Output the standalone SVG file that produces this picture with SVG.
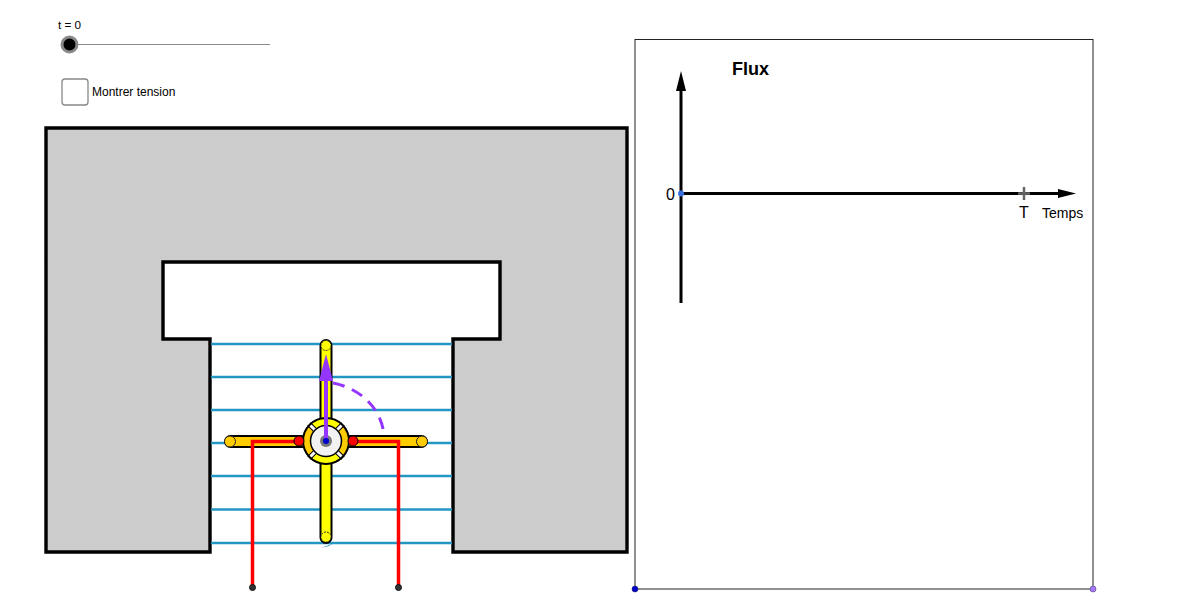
<svg xmlns="http://www.w3.org/2000/svg" width="1200" height="601" viewBox="0 0 1200 601">
<style>
text{font-family:"Liberation Sans",Arial,sans-serif;fill:#000}
.field{stroke:#2496c4;stroke-width:2.400;fill:none}
.ax{stroke:#000;stroke-width:3;fill:none}
.red{stroke:#f00;stroke-width:3.500;fill:none}
.wall{fill:#ccc;stroke:#000;stroke-width:3.400;stroke-linejoin:miter}
.pin{fill:#333;stroke:#111;stroke-width:1}
.slit{stroke:#000;stroke-width:5;fill:none}
.vis{stroke:#fff;stroke-width:3;fill:none}
</style>
<rect width="1200" height="601" fill="#fff"/>
<g id="slider">
<line x1="69" y1="44.500" x2="270" y2="44.500" stroke="#8a8a8a" stroke-width="1"/>
<circle cx="69.500" cy="44.500" r="7.500" fill="#000" stroke="#888" stroke-width="3"/>
<text x="58" y="29" font-size="11.700">t = 0</text>
</g>
<g id="checkbox">
<rect x="62" y="79" width="26" height="26" rx="3" fill="#fff" stroke="#888" stroke-width="1.300"/>
<text x="92" y="96" font-size="12">Montrer tension</text>
</g>
<g id="magnet">
<path class="wall" d="M46 128H627V552H453V339H500V262H163V339H210V552H46Z"/>
</g>
<g id="connectors">
<path class="field" d="M211 344H452M211 377H452M211 410H452M211 443H452M211 476H452M211 509.500H452M211 543H452"/>
<path d="M321 548L333 543.500L329 546Z" fill="#2496c4"/>
<path d="M333 383C360 388 385 410 384 441" fill="none" stroke="#9436ff" stroke-width="3" stroke-dasharray="12 8"/>
</g>
<g id="rotor">
<rect x="320.500" y="340" width="11" height="203" rx="5.500" fill="#ff0" stroke="#000" stroke-width="2"/>
<rect x="225" y="436" width="202" height="11" rx="5.500" fill="#fc0" stroke="#000" stroke-width="2"/>
<circle cx="326" cy="345.500" r="5" fill="#ff0" stroke="#333" stroke-width="1" stroke-dasharray="2 1"/>
<circle cx="326" cy="537" r="5" fill="#ff0" stroke="#333" stroke-width="1" stroke-dasharray="2 1"/>
<circle cx="230" cy="441.500" r="5.500" fill="#fc0" stroke="#222" stroke-width="1"/>
<circle cx="422" cy="441.500" r="5.500" fill="#fc0" stroke="#222" stroke-width="1"/>
</g>
<g id="hub">
<circle cx="326" cy="441" r="23" fill="#fc0"/>
<path d="M310 425A22.600 22.600 0 0 1 342 425L326 441ZM310 457A22.600 22.600 0 0 0 342 457L326 441Z" fill="#ff0"/>
<path class="slit" d="M309 424L319 434M343 424L333 434M309 458L319 448M343 458L333 448"/>
<path class="vis" d="M309 424L319 434M343 424L333 434M309 458L319 448M343 458L333 448"/>
<circle cx="326" cy="441" r="15.500" fill="#f2f2f2" stroke="#000" stroke-width="1.500"/>
<circle cx="326" cy="441" r="23" fill="none" stroke="#000" stroke-width="2"/>
<circle cx="326" cy="441" r="6" fill="#777"/>
</g>
<g id="circuit">
<path class="red" d="M252.500 587V441.500H299M352 441.500H398.500V587"/>
<circle cx="299" cy="441" r="5" fill="#f00" stroke="#000" stroke-width="1"/>
<circle cx="353" cy="441" r="5" fill="#f00" stroke="#000" stroke-width="1"/>
<circle class="pin" cx="252.500" cy="587.500" r="3"/>
<circle class="pin" cx="398.500" cy="587.500" r="3"/>
</g>
<g id="vector">
<line x1="326" y1="441" x2="326" y2="375" stroke="#9436ff" stroke-width="4"/>
<path d="M326 354L333 381H319Z" fill="#9436ff"/>
<circle cx="326" cy="441" r="3" fill="#00c"/>
</g>
<g id="graph">
<rect x="635" y="39.500" width="458" height="549.500" fill="none" stroke="#222" stroke-width="1"/>
<circle cx="635" cy="589" r="3" fill="#00c" stroke="#226" stroke-width=".6"/>
<circle cx="1093" cy="589" r="3" fill="#a878ff" stroke="#447" stroke-width=".6"/>
<line class="ax" x1="681" y1="303" x2="681" y2="88"/>
<path d="M681 71L686 91H676Z"/>
<line class="ax" x1="681" y1="193.500" x2="1060" y2="193.500"/>
<path d="M1076 193.500L1058 189V198Z"/>
<circle cx="681" cy="193.500" r="3" fill="#3a6fe0"/>
<line x1="1024" y1="187" x2="1024" y2="200" stroke="#666" stroke-width="2.500"/>
<line x1="1018" y1="193.500" x2="1030" y2="193.500" stroke="#666" stroke-width="2.500"/>
<text x="732" y="75" font-size="18" font-weight="bold">Flux</text>
<text x="666" y="200" font-size="16">0</text>
<text x="1019" y="218" font-size="16">T</text>
<text x="1042" y="218" font-size="14">Temps</text>
</g>
</svg>
